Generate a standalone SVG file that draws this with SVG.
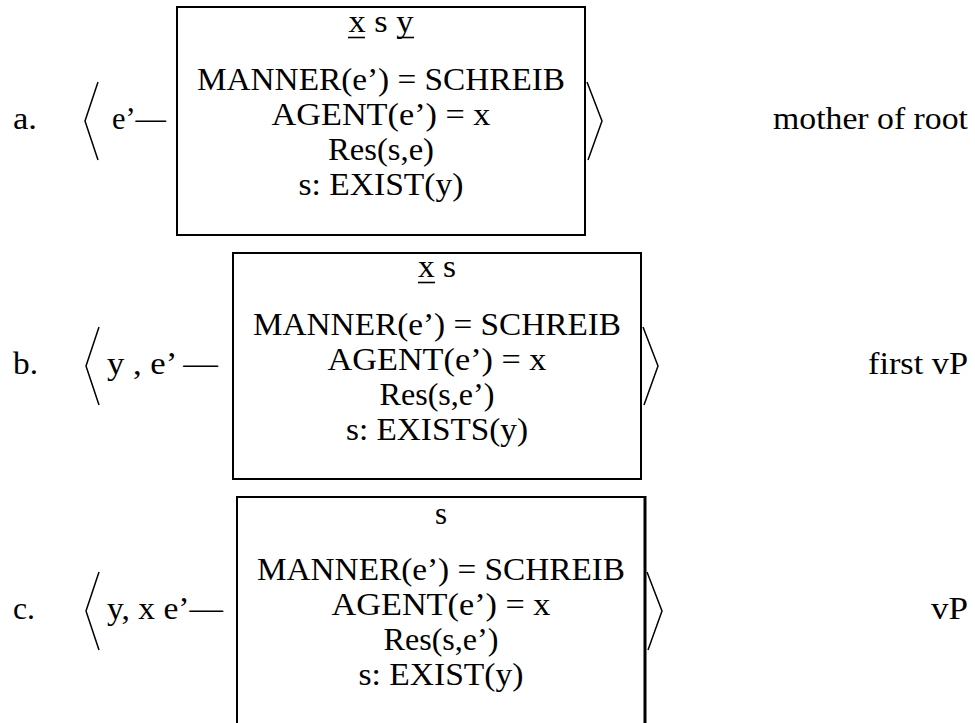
<svg xmlns="http://www.w3.org/2000/svg" width="975" height="723" viewBox="0 0 975 723">
  <style>
    text { font-family: "Liberation Serif", "Times New Roman", serif; font-size: 31px; fill: #000; }
    .c { text-anchor: middle; }
    .e { text-anchor: end; }
    .box { fill: none; stroke: #000; stroke-width: 2; }
    .ang { fill: none; stroke: #000; stroke-width: 1.5; stroke-linejoin: miter; }
    .ul { stroke: #000; stroke-width: 1.6; }
  </style>
  <rect width="975" height="723" fill="#fff"/>

  <!-- (a) mother of root -->
  <g id="row-a">
    <text x="13" y="129" textLength="24" lengthAdjust="spacingAndGlyphs">a.</text>
    <polyline class="ang" points="98,82 85,121 98,160"/>
    <text x="112" y="129" textLength="54" lengthAdjust="spacingAndGlyphs">e’—</text>
    <rect class="box" x="177" y="7" width="408" height="228"/>
    <text class="c" x="381" y="32" textLength="65" lengthAdjust="spacingAndGlyphs">x s y</text>
    <line class="ul" x1="348" y1="37.5" x2="365" y2="37.5"/>
    <line class="ul" x1="397" y1="37.5" x2="414" y2="37.5"/>
    <text class="c" x="381" y="90" textLength="368" lengthAdjust="spacingAndGlyphs">MANNER(e’) = SCHREIB</text>
    <text class="c" x="381" y="125" textLength="219" lengthAdjust="spacingAndGlyphs">AGENT(e’) = x</text>
    <text class="c" x="381" y="160" textLength="106" lengthAdjust="spacingAndGlyphs">Res(s,e)</text>
    <text class="c" x="381" y="195" textLength="165" lengthAdjust="spacingAndGlyphs">s: EXIST(y)</text>
    <polyline class="ang" points="587,82 602,121 588,160"/>
    <text class="e" x="968" y="129" textLength="195" lengthAdjust="spacingAndGlyphs">mother of root</text>
  </g>

  <!-- (b) first vP -->
  <g id="row-b">
    <text x="13" y="374" textLength="25" lengthAdjust="spacingAndGlyphs">b.</text>
    <polyline class="ang" points="99,327 86,366 99,405"/>
    <text x="107" y="374" textLength="111" lengthAdjust="spacingAndGlyphs">y , e’ —</text>
    <rect class="box" x="233" y="253" width="408" height="226"/>
    <text class="c" x="437" y="277" textLength="38" lengthAdjust="spacingAndGlyphs">x s</text>
    <line class="ul" x1="418" y1="282.5" x2="435" y2="282.5"/>
    <text class="c" x="437" y="335" textLength="368" lengthAdjust="spacingAndGlyphs">MANNER(e’) = SCHREIB</text>
    <text class="c" x="437" y="370" textLength="219" lengthAdjust="spacingAndGlyphs">AGENT(e’) = x</text>
    <text class="c" x="437" y="405" textLength="115" lengthAdjust="spacingAndGlyphs">Res(s,e’)</text>
    <text class="c" x="437" y="440" textLength="182" lengthAdjust="spacingAndGlyphs">s: EXISTS(y)</text>
    <polyline class="ang" points="643,327 658,366 644,405"/>
    <text class="e" x="968" y="374" textLength="100" lengthAdjust="spacingAndGlyphs">first vP</text>
  </g>

  <!-- (c) vP -->
  <g id="row-c">
    <text x="13" y="619" textLength="22" lengthAdjust="spacingAndGlyphs">c.</text>
    <polyline class="ang" points="99,572 86,611 99,650"/>
    <text x="107" y="619" textLength="116" lengthAdjust="spacingAndGlyphs">y, x e’—</text>
    <path class="box" d="M237,723 V497 H645"/>
    <line x1="645" y1="496" x2="645" y2="723" stroke="#000" stroke-width="3"/>
    <text class="c" x="441" y="524">s</text>
    <text class="c" x="441" y="580" textLength="368" lengthAdjust="spacingAndGlyphs">MANNER(e’) = SCHREIB</text>
    <text class="c" x="441" y="615" textLength="219" lengthAdjust="spacingAndGlyphs">AGENT(e’) = x</text>
    <text class="c" x="441" y="650" textLength="115" lengthAdjust="spacingAndGlyphs">Res(s,e’)</text>
    <text class="c" x="441" y="685" textLength="165" lengthAdjust="spacingAndGlyphs">s: EXIST(y)</text>
    <polyline class="ang" points="647,572 662,611 648,650"/>
    <text class="e" x="968" y="619" textLength="37" lengthAdjust="spacingAndGlyphs">vP</text>
  </g>
</svg>
